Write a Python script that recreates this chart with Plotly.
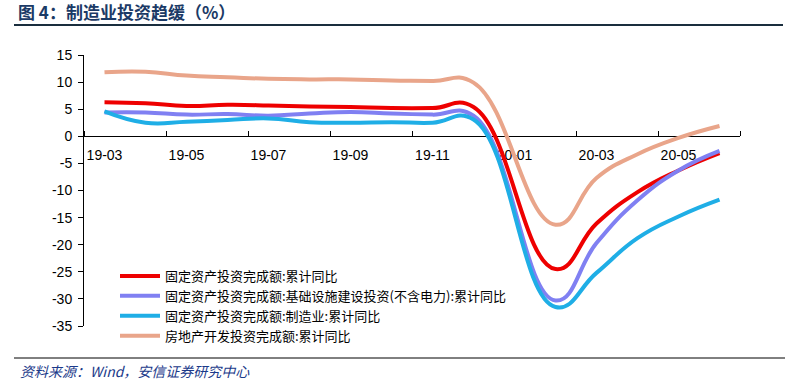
import plotly.graph_objects as go

# ---- data ----
months = ["19-03", "19-04", "19-05", "19-06", "19-07", "19-08", "19-09", "19-10",
          "19-11", "19-12", "20-01", "20-02", "20-03", "20-04", "20-05", "20-06"]

fai_total = [6.3, 6.1, 5.6, 5.8, 5.7, 5.5, 5.4, 5.2, 5.2, 5.4, None, -24.5, -16.1, -10.3, -6.3, -3.1]
fai_infra = [4.4, 4.4, 4.0, 4.1, 3.8, 4.2, 4.5, 4.2, 4.0, 3.8, None, -30.3, -19.7, -11.8, -6.3, -2.7]
fai_manuf = [4.6, 2.5, 2.7, 3.0, 3.3, 2.6, 2.5, 2.6, 2.5, 3.1, None, -31.5, -25.2, -18.8, -14.8, -11.7]
fai_realestate = [11.8, 11.9, 11.2, 10.9, 10.6, 10.5, 10.5, 10.3, 10.2, 9.9, None, -16.3, -7.7, -3.3, -0.3, 1.9]

series_names = [
    "固定资产投资完成额:累计同比",
    "固定资产投资完成额:基础设施建设投资(不含电力):累计同比",
    "固定资产投资完成额:制造业:累计同比",
    "房地产开发投资完成额:累计同比",
]
series_values = [fai_total, fai_infra, fai_manuf, fai_realestate]
series_colors = ["#EE0000", "#8080F2", "#1FAEE6", "#E9A58A"]

y_ticks = [15, 10, 5, 0, -5, -10, -15, -20, -25, -30, -35]
title_text = "图 4：制造业投资趋缓（%）"
source_text = "资料来源：Wind，安信证券研究中心"

# ---- figure ----
x_idx = list(range(len(months)))
fig = go.Figure()
for name, vals, col in zip(series_names, series_values, series_colors):
    fig.add_trace(go.Scatter(
        x=x_idx, y=vals, name=name, mode="lines", connectgaps=True,
        line=dict(color=col, width=4, shape="spline", smoothing=1.3),
    ))

L, R, T, B = 84, 60, 55, 57
W, H = 800, 383
pw, ph = W - L - R, H - T - B

def px(xp):
    return (xp - L) / pw

def py(yp):
    return (H - B - yp) / ph

ymin, ymax = -35, 15
fig.update_layout(
    width=W, height=H,
    margin=dict(l=L, r=R, t=T, b=B),
    paper_bgcolor="white", plot_bgcolor="white",
    font=dict(family="Liberation Sans, Arial, sans-serif", size=14, color="black"),
    showlegend=True,
    legend=dict(
        x=px(115), y=py(261), xanchor="left", yanchor="top",
        bgcolor="rgba(0,0,0,0)", borderwidth=0,
        font=dict(family="Noto Sans CJK SC", size=13, color="black"),
        tracegroupgap=0, itemwidth=40,
    ),
    xaxis=dict(
        range=[-0.5, len(months) - 0.5],
        tickmode="array",
        tickvals=x_idx[::2], ticktext=months[::2],
        ticks="", showgrid=False, zeroline=False,
        showline=True, linecolor="black", linewidth=1,
        anchor="free", position=(0 - ymin) / (ymax - ymin),
        tickfont=dict(size=14, color="black"),
        ticklabelstandoff=6,
        minor=dict(tickvals=[i - 0.5 for i in range(0, len(months) + 1, 2)],
                   ticks="inside", ticklen=5, tickcolor="black", tickwidth=1,
                   showgrid=False),
        layer="below traces",
    ),
    yaxis=dict(
        range=[ymin, ymax], tickmode="array", tickvals=y_ticks,
        ticktext=[str(v) for v in y_ticks],
        ticks="outside", ticklen=5, tickcolor="black",
        showline=True, linecolor="black", linewidth=1,
        showgrid=False, zeroline=False,
        tickfont=dict(size=14, color="black"),
        ticklabelstandoff=3,
    ),
)

# title and underline
fig.add_annotation(
    xref="paper", yref="paper", x=px(16), y=py(12), xanchor="left", yanchor="middle",
    text="<b>" + title_text + "</b>", showarrow=False,
    font=dict(family="Noto Sans CJK SC", size=17, color="#1B3A66"),
)
fig.add_shape(type="line", xref="paper", yref="paper",
              x0=px(14), x1=px(783), y0=py(25), y1=py(25),
              line=dict(color="#1A2E3E", width=2))

# source line and text
fig.add_shape(type="line", xref="paper", yref="paper",
              x0=px(14), x1=px(785), y0=py(358), y1=py(358),
              line=dict(color="black", width=1))
fig.add_annotation(
    xref="paper", yref="paper", x=px(18), y=py(371), xanchor="left", yanchor="middle",
    text="<i>" + source_text + "</i>", showarrow=False,
    font=dict(family="Noto Sans CJK SC", size=14, color="#1B3A8A"),
)

fig.write_html(
    "out.html",
    config={"displayModeBar": False},
    post_script="document.body.style.margin='0px';document.body.style.overflow='hidden';",
)
